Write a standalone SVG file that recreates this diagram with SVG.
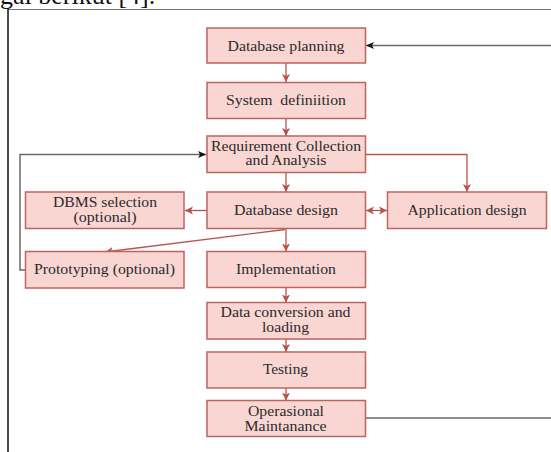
<svg xmlns="http://www.w3.org/2000/svg" width="551" height="452" viewBox="0 0 551 452">
<style>
.box{fill:#f9d6d2;stroke:#c0635d;stroke-width:1.5}
.t{font-family:"Liberation Serif","Times New Roman",serif;font-size:15px;fill:#2b2b2b;text-anchor:middle}
.r{fill:none;stroke:#b9524c;stroke-width:1.3}
.k{fill:none;stroke:#6a6a6a;stroke-width:1.5}
</style>
<defs>
<marker id="ar" markerUnits="userSpaceOnUse" markerWidth="10" markerHeight="10" refX="8" refY="4.5" orient="auto-start-reverse" viewBox="0 0 10 10">
<path d="M0,0.5 L8,4.5 L0,8.5 L2,4.5 z" fill="#b9524c"/>
</marker>
<marker id="ak" markerUnits="userSpaceOnUse" markerWidth="10" markerHeight="10" refX="8" refY="4" orient="auto" viewBox="0 0 10 10">
<path d="M0,0.5 L8,4 L0,7.5 L2,4 z" fill="#111"/>
</marker>
</defs>
<text x="0" y="4" style="font-family:'Liberation Serif','Times New Roman',serif;font-size:26px;fill:#111">gai berikut [4].</text>
<line x1="8" y1="9.5" x2="551" y2="9.5" stroke="#777" stroke-width="1"/>
<line x1="8" y1="9" x2="8" y2="452" stroke="#111" stroke-width="1.5"/>
<g id="connectors">
<path class="k" d="M551,45.5 H366" marker-end="url(#ak)"/>
<path class="k" d="M366,418 H551"/>
<path class="k" d="M25,270 H20 V154.5 H206" marker-end="url(#ak)"/>
<path class="r" d="M286,63 V82" marker-end="url(#ar)"/>
<path class="r" d="M286,118.5 V136" marker-end="url(#ar)"/>
<path class="r" d="M286,172.5 V192" marker-end="url(#ar)"/>
<path class="r" d="M365,154.5 H467 V192" marker-end="url(#ar)"/>
<path class="r" d="M207,210.5 H185" marker-end="url(#ar)"/>
<path class="r" d="M366,210.5 H387" marker-start="url(#ar)" marker-end="url(#ar)"/>
<path class="r" d="M286,228.5 V251.5" marker-end="url(#ar)"/>
<path class="r" d="M285,229.5 L105,252" marker-end="url(#ar)"/>
<path class="r" d="M286,287.5 V302.5" marker-end="url(#ar)"/>
<path class="r" d="M286,339 V352" marker-end="url(#ar)"/>
<path class="r" d="M286,388 V400.5" marker-end="url(#ar)"/>
</g>
<g id="dbplanning"><rect class="box" x="207" y="28" width="158.5" height="35"/><text class="t" x="286" y="51" textLength="117" lengthAdjust="spacingAndGlyphs">Database planning</text></g>
<g id="sysdef"><rect class="box" x="207" y="82.5" width="158.5" height="36"/><text class="t" x="286" y="105" textLength="120" lengthAdjust="spacingAndGlyphs" xml:space="preserve">System  definiition</text></g>
<g id="req"><rect class="box" x="207" y="136" width="158.5" height="36.5"/><text class="t" x="286" y="150.5" textLength="150" lengthAdjust="spacingAndGlyphs">Requirement Collection</text><text class="t" x="286" y="165" textLength="81" lengthAdjust="spacingAndGlyphs">and Analysis</text></g>
<g id="dbdesign"><rect class="box" x="207" y="192" width="158.5" height="36.5"/><text class="t" x="286" y="214.5" textLength="104" lengthAdjust="spacingAndGlyphs">Database design</text></g>
<g id="dbms"><rect class="box" x="25.5" y="192" width="158.5" height="36.5"/><text class="t" x="105" y="206.5" textLength="104" lengthAdjust="spacingAndGlyphs">DBMS selection</text><text class="t" x="105" y="221.5" textLength="63" lengthAdjust="spacingAndGlyphs">(optional)</text></g>
<g id="appdesign"><rect class="box" x="387.5" y="192" width="159" height="36.5"/><text class="t" x="467" y="214.5" textLength="119" lengthAdjust="spacingAndGlyphs">Application design</text></g>
<g id="prototyping"><rect class="box" x="25.5" y="251.5" width="158.5" height="36.5"/><text class="t" x="104.5" y="274" textLength="141" lengthAdjust="spacingAndGlyphs">Prototyping (optional)</text></g>
<g id="implementation"><rect class="box" x="207" y="251.5" width="158.5" height="36"/><text class="t" x="286" y="273.5" textLength="100" lengthAdjust="spacingAndGlyphs">Implementation</text></g>
<g id="dataconv"><rect class="box" x="207" y="302.5" width="158.5" height="36.5"/><text class="t" x="285.5" y="316.7" textLength="130" lengthAdjust="spacingAndGlyphs">Data conversion and</text><text class="t" x="285.5" y="331.7" textLength="47" lengthAdjust="spacingAndGlyphs">loading</text></g>
<g id="testing"><rect class="box" x="207" y="352" width="158.5" height="36"/><text class="t" x="285.5" y="373.5" textLength="45" lengthAdjust="spacingAndGlyphs">Testing</text></g>
<g id="operasional"><rect class="box" x="207" y="400.5" width="158.5" height="36"/><text class="t" x="286" y="416" textLength="76" lengthAdjust="spacingAndGlyphs">Operasional</text><text class="t" x="285.5" y="430.5" textLength="82" lengthAdjust="spacingAndGlyphs">Maintanance</text></g>
</svg>
